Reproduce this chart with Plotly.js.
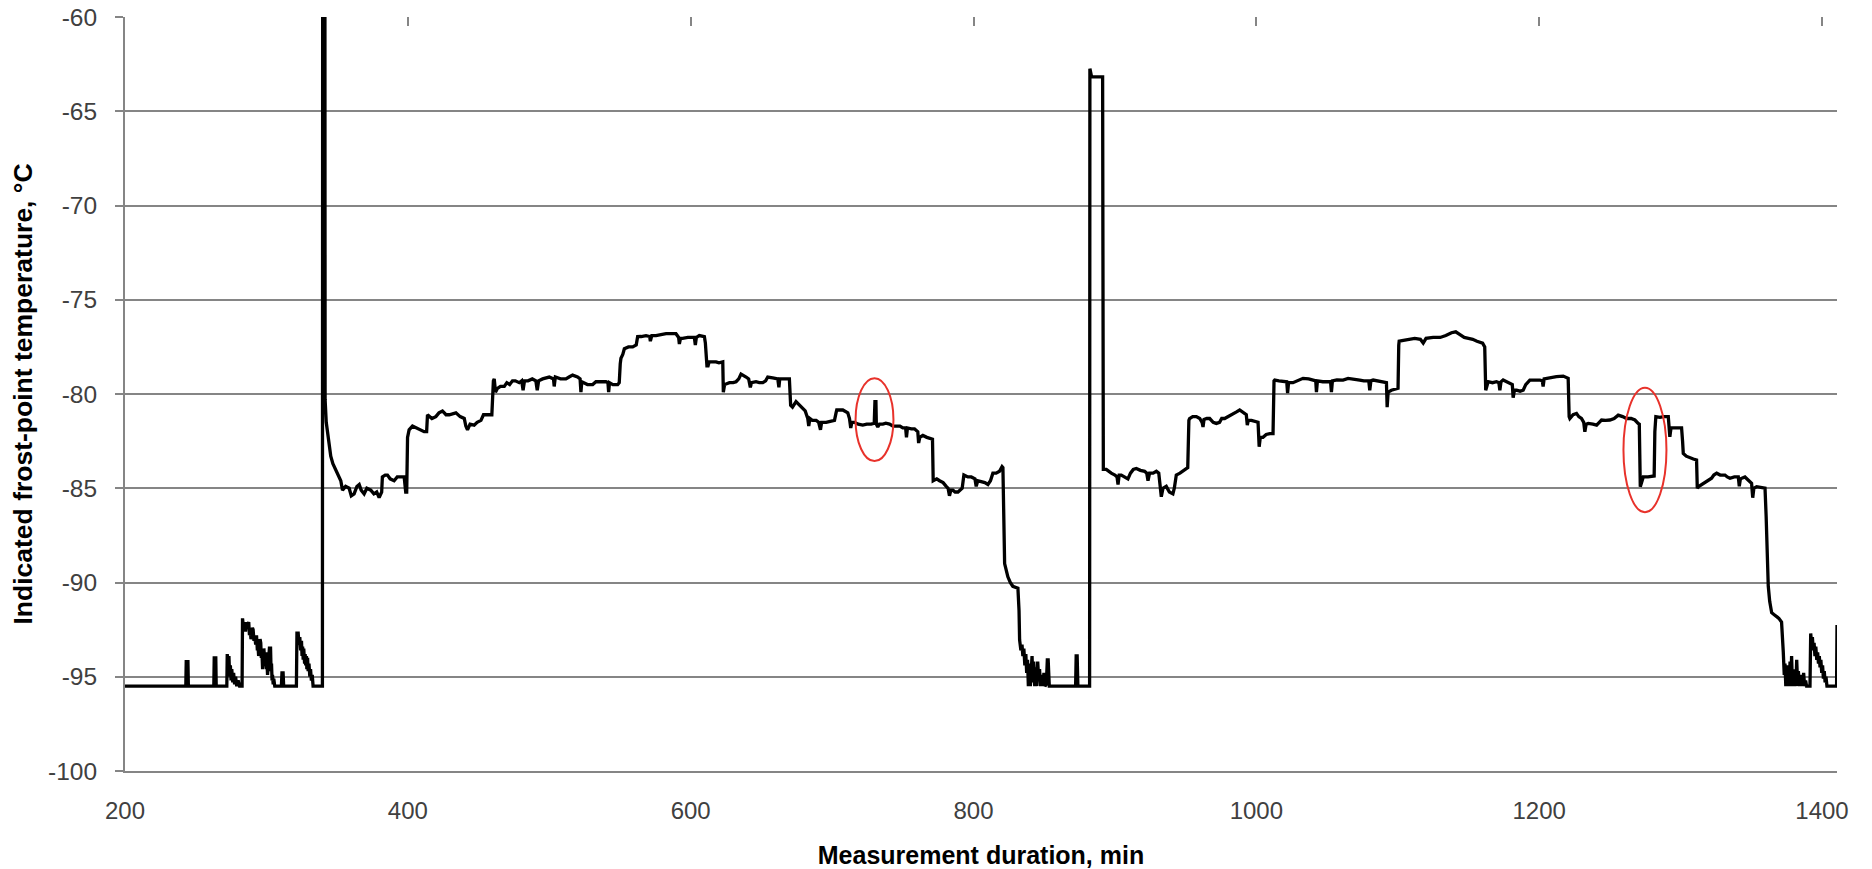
<!DOCTYPE html>
<html>
<head>
<meta charset="utf-8">
<script src="https://cdn.plot.ly/plotly-3.0.1.min.js"></script>
<style>html,body{margin:0;padding:0;background:#fff;}#chart{width:1872px;height:869px;}</style>
</head>
<body>
<div id="chart"></div>
<script>
// [measurement duration (min), indicated frost-point temperature (°C)]
const beforeFirstPeak = [
[200,-95.5],[243,-95.5],[243.3,-94.2],[244.5,-94.2],[244.8,-95.5],[262.8,-95.5],[263.1,-94.0],[264.2,-94.0],[264.5,-95.5],
[272,-95.5],[272.3,-93.8],[273.0,-94.3],[273.5,-93.9],[274.0,-95.0],[274.5,-94.4],[275.0,-95.2],[275.5,-94.6],[276.2,-95.3],
[276.8,-94.8],[277.5,-95.4],[278.2,-95.0],[279,-95.5],[280,-95.2],[281,-95.5],[282.8,-95.5],
[283.1,-91.9],[283.8,-92.4],[284.5,-92.1],[285.2,-92.6],[285.9,-92.1],[286.6,-92.3],[287.5,-92.1],[288.0,-92.8],[288.5,-92.5],
[289.1,-93.0],[289.5,-92.9],[290.1,-92.4],[290.6,-92.5],[291.2,-93.1],[291.8,-92.8],[292.4,-93.3],[293,-92.8],[293.6,-93.6],
[294,-93.3],[294.5,-93.9],[294.9,-93.3],[295.5,-93.0],[296,-93.2],[296.4,-94.0],[296.8,-93.6],[297.3,-94.6],[297.7,-94.3],
[298.2,-93.5],[298.5,-93.7],[299,-94.4],[299.6,-93.7],[300.0,-94.6],[300.4,-94.2],[300.8,-94.9],[301.2,-94.5],[301.7,-93.5],
[302.2,-93.4],[302.6,-94.2],[302.9,-93.4],[303.3,-94.7],[303.6,-94.3],[304.0,-95.2],[304.3,-94.9],[304.8,-95.4],[305.2,-95.1],
[305.9,-95.5],[310.6,-95.5],[311,-94.8],[311.8,-94.8],[312.2,-95.5],[321.2,-95.5],
[321.6,-92.6],[322.0,-93.2],[322.4,-92.6],[323.0,-93.3],[323.6,-92.9],[324.2,-93.6],[324.8,-93.1],[325.2,-93.9],[325.6,-93.4],
[326.0,-94.1],[326.4,-93.5],[327.0,-94.3],[327.4,-93.8],[327.8,-94.4],[328.3,-93.9],[328.6,-94.6],[329.1,-94.0],[329.5,-94.7],
[330.1,-94.3],[330.7,-95.0],[331.2,-94.6],[331.8,-95.2],[332.4,-94.9],[333,-95.5],[339.6,-95.5],[339.9,-30],[341.2,-30]
];

const firstCycle = [
[341.5,-80.3],[342.3,-81.5],[343.9,-82.3],[345.5,-83.3],[347,-83.7],[349,-84.0],[351,-84.3],[352.6,-84.6],[353.8,-85.1],
[356,-84.9],[358.5,-85.0],[360,-85.4],[362,-85.3],[364,-84.9],[365.6,-84.8],[367,-85.1],[369.1,-85.3],[371,-85.0],[373.8,-85.1],
[376,-85.3],[378,-85.2],[379.7,-85.5],[381.5,-85.2],[382,-84.4],[384,-84.3],[385.6,-84.3],[387.5,-84.5],[390.3,-84.6],
[392.5,-84.4],[395,-84.4],[397.4,-84.4],[398.5,-85.2],[399.2,-85.2],[399.8,-82.3],[400.9,-81.9],[403.3,-81.7],[406,-81.8],
[408,-81.9],[411.5,-82.0],[413.3,-82.0],[413.9,-81.1],[417,-81.3],[419.8,-81.2],[422,-81.0],[424.5,-80.9],[427,-81.1],
[429.3,-81.1],[434,-81.0],[437,-81.2],[439.9,-81.3],[441,-81.7],[442.2,-81.9],[444,-81.6],[446.9,-81.65],[449,-81.5],
[451.7,-81.4],[453.5,-81.1],[455.2,-81.1],[459.4,-81.1],[460.5,-79.3],[461.1,-79.2],[462,-79.9],[463.4,-79.7],[465.5,-79.6],
[468.2,-79.6],[470,-79.4],[472,-79.5],[474,-79.3],[476,-79.3],[478.8,-79.4],[480.5,-79.3],[481.5,-79.8],[482.5,-79.3],
[485,-79.3],[488,-79.2],[490.5,-79.3],[491.5,-79.8],[492.5,-79.3],[495.3,-79.2],[500,-79.1],[503,-79.2],[503.5,-79.6],
[504.3,-79.1],[508,-79.2],[511.8,-79.2],[514,-79.1],[516.5,-79.0],[520,-79.1],[521.8,-79.2],[522.4,-79.9],[523,-79.35],
[527,-79.5],[530.7,-79.5],[533,-79.35],[535.4,-79.35],[540.1,-79.35],[541.5,-79.4],[542,-79.9],[542.6,-79.4],[545,-79.5],
[548.4,-79.5],[549.5,-79.4],[550.2,-78.4],[550.7,-78.1],[552,-77.9],[553.1,-77.6],[556,-77.5],[559,-77.5],[561.5,-77.4],
[562.5,-76.96],[565,-76.95],[568.4,-76.9],[571,-76.95],[571.5,-77.2],[572.5,-76.9],[575.5,-76.9],[579,-76.85],[582.6,-76.8],
[586,-76.8],[589.6,-76.8],[591.5,-77.0],[592,-77.35],[592.8,-77.05],[594.3,-77.05],[598,-77.0],[602.6,-77.0],[603.3,-77.4],
[604,-77.0],[606.1,-76.9],[609.7,-76.96],[610.4,-77.3],[610.9,-78.1],[611.5,-78.5],[612.3,-78.5],[613,-78.3],[614.4,-78.3],
[617.9,-78.3],[620,-78.35],[622.7,-78.3],[623.1,-79.9],[624,-79.5],[627.4,-79.4],[630,-79.4],[632.1,-79.35],[634,-79.2],
[635.6,-78.94],[637.5,-79.0],[639.2,-79.1],[641,-79.2],[642.2,-79.65],[643,-79.4],[646.2,-79.35],[648.5,-79.4],[651,-79.4],
[653,-79.3],[654.5,-79.1],[658,-79.15],[661.6,-79.2],[662.4,-79.65],[663,-79.2],[665.1,-79.2],[669.8,-79.2],[670.7,-80.6],
[672,-80.7],[674.5,-80.4],[677,-80.6],[679.3,-80.8],[681,-80.9],[682.8,-81.3],[683.5,-81.7],[684.3,-81.3],[686,-81.4],
[688.7,-81.4],[690.5,-81.5],[691.8,-81.9],[692.6,-81.5],[695.8,-81.5],[699,-81.45],[701.7,-81.4],[702.8,-81.0],[703.3,-80.85],
[705.5,-80.85],[707.6,-80.85],[711.1,-81.0],[712.3,-81.3],[713.2,-81.8],[714,-81.5],[715.8,-81.5],[718.5,-81.6],[721.7,-81.65],
[724.5,-81.6],[727.6,-81.6],[729.8,-81.55],[730.3,-80.4],[731,-80.4],[731.3,-81.6],[732.3,-81.75],[733.5,-81.6],[735.9,-81.6],
[738,-81.55],[740.6,-81.6],[743,-81.7],[745.3,-81.7],[748,-81.7],[750,-81.8],[752,-81.8],[752.6,-82.3],[753.3,-81.8],
[756,-81.85],[758.3,-81.85],[760.6,-82.0],[761.2,-82.6],[762,-82.3],[764.2,-82.2],[767,-82.3],[770,-82.35],[771,-82.4],
[771.5,-84.6],[774,-84.5],[776,-84.6],[778.5,-84.7],[780.7,-84.9],[782,-85.0],[783,-85.4],[784,-85.1],[785.4,-85.1],
[787,-85.2],[789,-85.2],[792,-85.0],[793.2,-84.3],[796,-84.4],[798.4,-84.4],[801,-84.5],[801.9,-84.9],[803,-84.6],
[805.4,-84.65],[808,-84.7],[810.2,-84.8],[812,-84.6],[813.7,-84.2],[816,-84.2],[818.4,-84.1],[820.2,-83.85],[820.8,-83.9],
[821.5,-86.5],[822,-89.0],[824.3,-89.7],[826,-90.0],[827.8,-90.2],[831.4,-90.3],[832.2,-91.5],
[832.6,-93.05],[833.5,-93.6],[834.3,-93.3],[834.9,-93.9],[835.6,-93.5],[836.3,-94.4],[837,-93.8],[837.6,-94.8],[838.2,-94.1],
[838.8,-95.5],[839.5,-94.3],[840.2,-95.5],[840.8,-94.4],[841.4,-93.9],[842,-95.3],[842.6,-94.2],[843.3,-95.5],[844,-94.5],
[844.7,-95.5],[845.4,-94.2],[846,-95.0],[846.7,-94.6],[847.4,-95.5],[848.2,-94.9],[849,-95.5],[849.8,-94.8],[850.5,-95.5],
[851.5,-95.4],[852.2,-94.1],[852.8,-94.1],[853.6,-95.5],[857.3,-95.5],[872.2,-95.5],[872.6,-93.9],[873.3,-93.9],[873.8,-95.5],
[882.1,-95.5]
];

const secondCycle = [
[882.3,-62.74],[883,-63.0],[883.5,-63.18],[891.3,-63.18],[891.8,-84.0],[893.9,-84.0],[895.5,-84.1],[897.4,-84.2],[900,-84.3],
[901.5,-84.4],[902.2,-84.8],[903,-84.3],[904.5,-84.3],[907,-84.4],[909.2,-84.5],[911,-84.2],[913,-84.0],[915.1,-83.95],
[918,-84.05],[921,-84.1],[922.5,-84.2],[923.4,-84.6],[924.5,-84.2],[927,-84.2],[929.3,-84.1],[931,-84.2],[932.2,-85.4],
[932.8,-85.45],[934,-85.0],[936.3,-84.9],[938.5,-85.2],[941,-85.3],[942,-85.0],[943.4,-84.3],[946,-84.2],[948,-84.1],
[950.5,-84.0],[951.5,-83.9],[952.3,-81.4],[952.8,-81.3],[955,-81.2],[957.6,-81.2],[960,-81.3],[961.6,-81.5],[962.3,-81.75],
[963,-81.35],[965,-81.3],[967,-81.3],[969.5,-81.5],[971.7,-81.56],[974,-81.5],[975.5,-81.3],[977.6,-81.3],[980,-81.2],
[983.5,-81.1],[986,-80.95],[988.2,-80.85],[990.5,-80.95],[992.9,-81.1],[993.6,-81.65],[994.3,-81.4],[996.5,-81.4],
[998.5,-81.45],[1001.2,-81.5],[1002,-82.8],[1002.8,-82.3],[1004.7,-82.3],[1007,-82.15],[1009.5,-82.1],[1011.8,-82.1],
[1012.5,-79.3],[1013,-79.26],[1016,-79.3],[1018.9,-79.35],[1021.5,-79.35],[1022.1,-79.95],[1022.8,-79.4],[1025.9,-79.4],
[1029,-79.3],[1033,-79.17],[1037,-79.2],[1041.3,-79.26],[1042,-79.3],[1042.5,-79.9],[1043.2,-79.3],[1047,-79.35],
[1051.9,-79.35],[1052.5,-79.35],[1053.1,-79.9],[1053.8,-79.3],[1057,-79.25],[1061.3,-79.26],[1064.9,-79.17],[1069,-79.2],
[1073.1,-79.26],[1076,-79.3],[1079.5,-79.3],[1080.2,-79.8],[1081,-79.3],[1082.6,-79.26],[1086,-79.3],[1090.8,-79.35],
[1092,-79.4],[1092.5,-80.7],[1093.2,-79.9],[1095.5,-79.8],[1098,-79.75],[1100.2,-79.7],[1100.7,-77.4],[1101,-77.2],
[1104,-77.15],[1108,-77.1],[1112,-77.05],[1116,-77.1],[1118,-77.3],[1120,-77.05],[1125,-77.0],[1130,-77.0],[1134,-76.9],
[1138,-76.75],[1141,-76.7],[1144,-76.85],[1147,-77.0],[1150,-77.05],[1153,-77.1],[1156,-77.2],[1160,-77.3],[1161.5,-77.5],
[1162.2,-79.8],[1163.9,-79.35],[1167,-79.4],[1169.8,-79.35],[1171.5,-79.4],[1172.2,-79.8],[1173,-79.35],[1174.5,-79.26],
[1177,-79.35],[1179.2,-79.44],[1181,-79.5],[1181.6,-80.2],[1182.5,-79.8],[1184,-79.8],[1186.5,-79.85],[1188.7,-79.8],
[1190.5,-79.5],[1193.4,-79.26],[1197,-79.25],[1200.5,-79.26],[1202.2,-79.3],[1202.8,-79.6],[1203.5,-79.2],[1205.2,-79.17],
[1208.5,-79.15],[1212.2,-79.08],[1217,-79.05],[1220.5,-79.17],[1221.2,-81.2],[1221.7,-81.3],[1224,-81.1],[1226.4,-81.03],
[1228,-81.2],[1229.9,-81.3],[1231.5,-81.5],[1232.3,-82.0],[1233.2,-81.6],[1234.7,-81.56],[1238,-81.6],[1240.6,-81.65],
[1242.5,-81.5],[1244.1,-81.38],[1247,-81.4],[1250,-81.38],[1253,-81.3],[1255.9,-81.12],[1259,-81.2],[1261.8,-81.3],
[1265,-81.3],[1267.7,-81.38],[1270,-81.56],[1270.8,-81.6],[1271.5,-84.92],[1272.5,-84.6],[1273.6,-84.4],[1277,-84.4],
[1281.3,-84.35],[1281.8,-82.0],[1282.5,-81.2],[1285.4,-81.24],[1288,-81.2],[1291.3,-81.2],[1291.8,-81.8],[1292.4,-82.27],
[1293.2,-81.8],[1294.8,-81.8],[1298,-81.8],[1300.7,-81.8],[1301.4,-82.5],[1301.9,-83.15],[1304,-83.3],[1306.6,-83.4],
[1309,-83.45],[1311.3,-83.5],[1311.8,-85.0],[1313,-84.9],[1316,-84.74],[1319,-84.6],[1321.9,-84.47],[1323.5,-84.3],
[1325.5,-84.2],[1328,-84.3],[1331.4,-84.3],[1333,-84.4],[1334.9,-84.47],[1338,-84.4],[1340.8,-84.4],[1341.5,-84.9],
[1342.3,-84.5],[1345.5,-84.4],[1348,-84.6],[1350.2,-84.74],[1351,-85.5],[1351.8,-85.0],[1353.8,-84.92],[1357,-84.95],
[1359.7,-85.0],[1360.5,-86.5],[1361.2,-88.5],[1362,-90.2],[1363,-91.0],[1364.4,-91.6],[1366,-91.7],[1367.9,-91.8],
[1369.5,-91.9],[1371.4,-92.1],[1372.2,-93.0],[1372.6,-93.67],[1373.3,-94.9],[1373.8,-94.3],[1374.4,-95.5],[1375,-94.6],
[1375.6,-95.5],[1376.2,-94.4],[1376.8,-95.5],[1377.4,-94.2],[1378,-95.2],[1378.5,-93.9],[1379.1,-95.5],[1379.7,-94.6],
[1380.3,-95.5],[1380.9,-94.8],[1381.5,-95.5],[1382.1,-94.1],[1382.7,-95.3],[1383.3,-94.7],[1383.9,-95.5],[1384.6,-95.0],
[1385.2,-95.5],[1385.8,-94.9],[1386.4,-95.5],[1387,-94.8],[1387.7,-95.5],[1388.4,-95.2],[1389.1,-95.5],[1391.5,-95.5],
[1392,-92.7],[1392.6,-93.2],[1393.2,-92.9],[1393.8,-93.6],[1394.4,-93.2],[1395,-93.9],[1395.6,-93.4],[1396.3,-94.1],
[1396.9,-93.7],[1397.5,-94.3],[1398.1,-93.9],[1398.6,-94.5],[1399.2,-94.1],[1399.8,-94.8],[1400.4,-94.4],[1401,-95.1],
[1401.6,-94.7],[1402.2,-95.3],[1402.8,-95.0],[1403.5,-95.5],[1410.3,-95.5],[1410.6,-92.25]
];

const xTickValues = [200, 400, 600, 800, 1000, 1200, 1400];
const yTickValues = [-100, -95, -90, -85, -80, -75, -70, -65, -60];

const readings = beforeFirstPeak.concat(firstCycle, secondCycle);
const durationMin = readings.map(p => p[0]);
const frostPointC = readings.map(p => p[1]);

const gridGray = '#858585';
const textFont = 'Liberation Sans, Arial, sans-serif';

const traces = [
  {
    x: durationMin,
    y: frostPointC,
    type: 'scatter',
    mode: 'lines',
    line: {color: '#000000', width: 3.3},
    hoverinfo: 'x+y',
    showlegend: false
  },
  {
    x: [xTickValues[0]],
    y: [yTickValues[0]],
    xaxis: 'x2',
    type: 'scatter',
    mode: 'markers',
    marker: {opacity: 0},
    hoverinfo: 'skip',
    showlegend: false
  }
];

const layout = {
  width: 1872,
  height: 869,
  margin: {l: 125, r: 35, t: 17, b: 98},
  paper_bgcolor: '#ffffff',
  plot_bgcolor: '#ffffff',
  showlegend: false,
  font: {family: textFont, color: '#404040'},
  xaxis: {
    range: [200, 1410.6],
    tickvals: xTickValues,
    ticktext: xTickValues.map(String),
    showgrid: false,
    zeroline: false,
    showline: true,
    linecolor: gridGray,
    linewidth: 2,
    ticks: '',
    ticklabelstandoff: 17,
    tickfont: {family: textFont, size: 24, color: '#404040'},
    title: {text: 'Measurement duration, min', font: {family: textFont, size: 25, color: '#000000', weight: 'bold'}, standoff: 25}
  },
  xaxis2: {
    overlaying: 'x',
    matches: 'x',
    side: 'top',
    anchor: 'y',
    range: [200, 1410.6],
    tickvals: xTickValues,
    ticks: 'inside',
    ticklen: 9,
    tickwidth: 2,
    tickcolor: gridGray,
    showticklabels: false,
    showgrid: false,
    zeroline: false,
    showline: false
  },
  yaxis: {
    range: [-100, -60],
    tickvals: yTickValues,
    ticktext: yTickValues.map(String),
    showgrid: true,
    gridcolor: gridGray,
    gridwidth: 2,
    zeroline: false,
    showline: true,
    linecolor: gridGray,
    linewidth: 2,
    ticks: 'outside',
    ticklen: 8,
    tickwidth: 2,
    tickcolor: gridGray,
    ticklabelstandoff: 13,
    tickfont: {family: textFont, size: 24.5, color: '#404040'},
    title: {text: 'Indicated frost-point temperature, °C', font: {family: textFont, size: 26.5, color: '#000000', weight: 'bold'}, standoff: 8}
  },
  shapes: [
    {type: 'circle', xref: 'x', yref: 'y', x0: 716.6, x1: 743.4, y0: -83.56, y1: -79.16, line: {color: '#e8322b', width: 2}},
    {type: 'circle', xref: 'x', yref: 'y', x0: 1259.6, x1: 1290.0, y0: -86.27, y1: -79.67, line: {color: '#e8322b', width: 2}}
  ]
};

Plotly.newPlot('chart', traces, layout, {staticPlot: true, displayModeBar: false});
</script>
</body>
</html>
